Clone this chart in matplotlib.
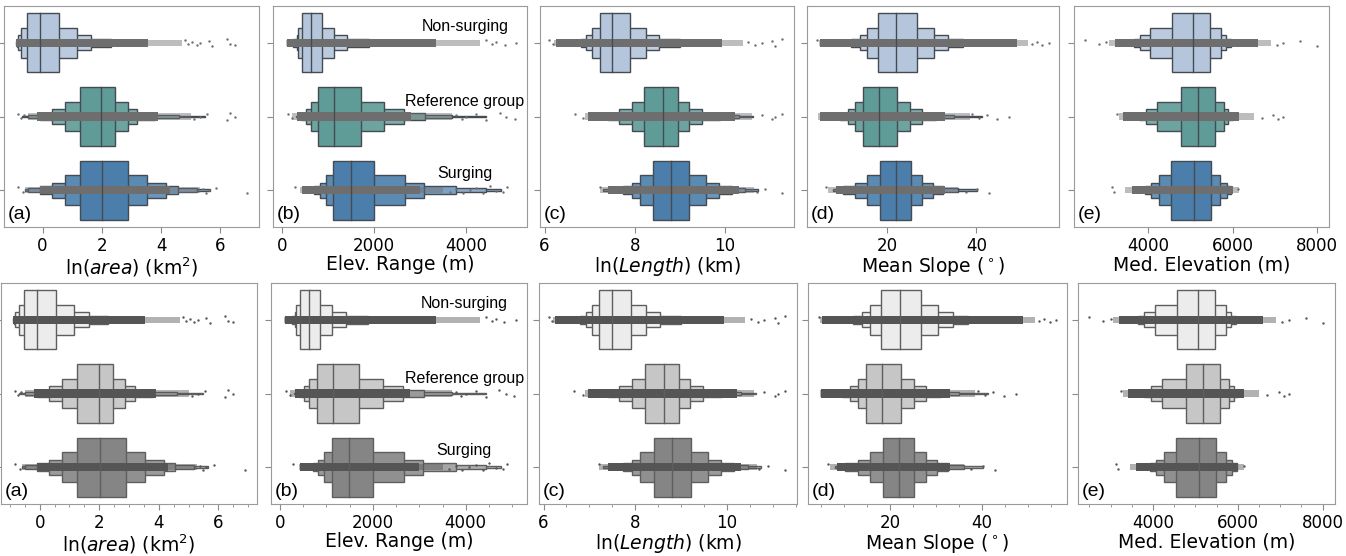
import numpy as np
import matplotlib.pyplot as plt
from matplotlib.ticker import MultipleLocator, AutoMinorLocator
from matplotlib.colors import to_rgb

groups = ['Non-surging', 'Reference group', 'Surging']
tags = ['(a)', '(b)', '(c)', '(d)', '(e)']
xlabels = [r'ln($\mathit{area}$) (km$^2$)', 'Elev. Range (m)',
           r'ln($\mathit{Length}$) (km)', r'Mean Slope ($^\circ$)',
           'Med. Elevation (m)']

# letter-value boxes, innermost (IQR) first; band = dense strip core,
# fringe = thinner part of the strip; sparse = single strip points
area_median = [-0.08, 1.98, 2.02]
area_boxes = [
    [(-0.53, 0.56), (-0.71, 1.15), (-0.82, 1.65), (-0.87, 2.3), (-0.89, 3.0)],
    [(1.25, 2.46), (0.76, 2.88), (0.31, 3.19), (-0.1, 3.8), (-0.5, 4.6), (-0.7, 5.49)],
    [(1.25, 2.89), (0.76, 3.53), (0.31, 4.18), (-0.08, 4.56), (-0.5, 5.2), (-0.6, 5.66)],
]
area_band = [(-0.89, 3.55), (-0.2, 3.9), (-0.1, 4.3)]
area_fringe = [(-0.89, 4.7), (-0.5, 5.0), (-0.6, 5.3)]
area_sparse = [
    [4.8, 4.9, 5.04, 5.2, 5.32, 5.6, 5.71, 6.22, 6.33, 6.5],
    [-0.84, -0.73, -0.62, 5.1, 5.32, 5.54, 6.22, 6.33, 6.5],
    [-0.82, -0.67, 5.4, 5.5, 5.6, 5.85, 6.89],
]

elev_median = [621, 1134, 1495]
elev_boxes = [
    [(440, 860), (354, 1127), (318, 1415), (250, 1900), (200, 2600)],
    [(787, 1705), (628, 2217), (520, 2651), (420, 3100), (350, 3700), (300, 4435)],
    [(1112, 2000), (953, 2665), (823, 3077), (700, 3785), (600, 4435), (500, 4761)],
]
elev_band = [(100, 3350), (318, 2800), (426, 3000)]
elev_fringe = [(90, 4300), (220, 3700), (400, 3500)]
elev_sparse = [
    [4435, 4560, 4652, 4832, 5086],
    [137, 209, 3786, 3900, 4002, 4218, 4435, 4724, 4868, 5049],
    [282, 3641, 3786, 3930, 4074, 4218, 4363, 4507, 4652, 4796, 4883],
]

len_median = [7.50, 8.63, 8.80]
len_boxes = [
    [(7.22, 7.90), (7.06, 8.24), (6.93, 8.53), (6.8, 9.0), (6.6, 9.5)],
    [(8.21, 8.95), (7.93, 9.20), (7.65, 9.48), (7.4, 9.9), (7.2, 10.3), (7.0, 10.63)],
    [(8.41, 9.21), (8.11, 9.58), (7.93, 9.87), (7.74, 10.15), (7.5, 10.45), (7.3, 10.74)],
]
len_band = [(6.26, 9.93), (6.96, 10.22), (7.4, 10.3)]
len_fringe = [(6.2, 10.4), (6.9, 10.6), (7.22, 10.65)]
len_sparse = [
    [6.11, 6.18, 10.52, 10.67, 10.81, 11.04, 11.11, 11.26],
    [6.67, 6.85, 10.81, 11.04, 11.11, 11.26],
    [7.22, 10.70, 10.89, 11.26],
]

slope_median = [22.09, 18.22, 21.93]
slope_boxes = [
    [(18.1, 26.67), (15.64, 30.44), (13.93, 33.7), (12, 37), (10, 41)],
    [(14.67, 22.31), (12.89, 25.2), (11.2, 27.87), (9.5, 31), (8, 35), (7, 41.2)],
    [(18.38, 25.27), (15.64, 27.87), (12.89, 30.2), (10.2, 32.6), (9, 36), (8, 40.2)],
]
slope_band = [(5.04, 49.0), (5.0, 33.0), (8.5, 33.0)]
slope_fringe = [(4.8, 51.5), (4.67, 38.5), (6.9, 36.0)]
slope_sparse = [
    [4.44, 52.4, 53.6, 54.7, 56.2],
    [39.1, 40.6, 42.4, 44.7, 47.3],
    [6.4, 37.6, 40.2, 42.8],
]

melev_median = [5054, 5173, 5085]
melev_boxes = [
    [(4560, 5470), (4040, 5720), (3790, 5840), (3650, 5950)],
    [(4770, 5590), (4200, 5790), (3940, 5900), (3780, 6010)],
    [(4530, 5480), (4250, 5710), (4060, 5860), (3920, 5970)],
]
melev_band = [(3200, 6600), (3400, 6150), (3600, 6000)]
melev_fringe = [(3050, 6900), (3300, 6500), (3446, 6150)]
melev_sparse = [
    [2497, 2813, 3000, 7049, 7206, 7603, 8014],
    [3250, 6693, 6969, 7087, 7206],
    [3131, 3170, 6137],
]

medians = [area_median, elev_median, len_median, slope_median, melev_median]
boxes = [area_boxes, elev_boxes, len_boxes, slope_boxes, melev_boxes]
bands = [area_band, elev_band, len_band, slope_band, melev_band]
fringes = [area_fringe, elev_fringe, len_fringe, slope_fringe, melev_fringe]
sparse = [area_sparse, elev_sparse, len_sparse, slope_sparse, melev_sparse]

xlims = [(-1.3, 7.3), (-195, 5320), (5.9, 11.53), (2.1, 58.5), (2230, 8290)]
steps = [2, 2000, 2, 20, 2000]

W, H = 1346, 556
rows = [
    dict(top=6, xs=[(4, 259), (273, 527), (540, 794), (807, 1059), (1074, 1329)],
         colors=['#b5c5dc', '#5f9b97', '#4b7eab'], edge='#454b52', dot='#6e6e6e', minor=False),
    dict(top=283, xs=[(1, 257), (271, 527), (539, 797), (808, 1067), (1078, 1335)],
         colors=['#ececec', '#c6c6c6', '#858585'], edge='#5e5e5e', dot='#555555', minor=True),
]
jit = np.array([-0.04, 0.02, -0.015, 0.035, 0.0, -0.03, 0.045, -0.05, 0.01, 0.028])


def lighten(c, f):
    r = np.array(to_rgb(c))
    return tuple(r + (1 - r) * f)


fig = plt.figure(figsize=(W / 100, H / 100), dpi=100)
for row in rows:
    for p in range(5):
        x0, x1 = row['xs'][p]
        ax = fig.add_axes([x0 / W, 1 - (row['top'] + 221) / H, (x1 - x0) / W, 221 / H])
        for i in range(3):
            bx = boxes[p][i]
            col = row['colors'][i]
            for k in range(len(bx) - 1, -1, -1):
                lo, hi = bx[k]
                ax.barh(i, hi - lo, left=lo, height=0.8 * 0.5 ** k,
                        color=lighten(col, 0.09 * k), edgecolor=row['edge'], linewidth=1)
            ax.plot([medians[p][i]] * 2, [i - 0.4, i + 0.4], color=row['edge'], lw=1)
            flo, fhi = fringes[p][i]
            ax.barh(i, fhi - flo, left=flo, height=0.09, color=row['dot'], alpha=0.45, linewidth=0)
            blo, bhi = bands[p][i]
            ax.barh(i, bhi - blo, left=blo, height=0.11, color=row['dot'], linewidth=0)
            xs = np.array(sparse[p][i])
            ax.scatter(xs, i + jit[np.arange(len(xs)) % len(jit)], s=3,
                       color=row['dot'], linewidths=0, zorder=3)
        ax.set_xlim(*xlims[p])
        ax.set_ylim(2.5, -0.5)
        ax.set_yticks([0, 1, 2])
        ax.set_yticklabels([])
        ax.xaxis.set_major_locator(MultipleLocator(steps[p]))
        if row['minor']:
            ax.xaxis.set_minor_locator(AutoMinorLocator())
        ax.tick_params(labelsize=12, color='#8a8a8a', length=4)
        ax.tick_params(which='minor', color='#8a8a8a', length=2.5)
        for s in ax.spines.values():
            s.set_color('#9a9a9a')
        ax.set_xlabel(xlabels[p], fontsize=13.5, labelpad=0)
        ax.text(0.015, 0.02, tags[p], transform=ax.transAxes, fontsize=14,
                family='Liberation Sans', ha='left', va='bottom')
        if p == 1:
            for g, yy in zip(groups, [0.905, 0.566, 0.24]):
                ax.text(0.755, yy, g, transform=ax.transAxes, fontsize=11.5,
                        family='Liberation Sans', ha='center', va='center')

fig.savefig('out.png', dpi=100)
